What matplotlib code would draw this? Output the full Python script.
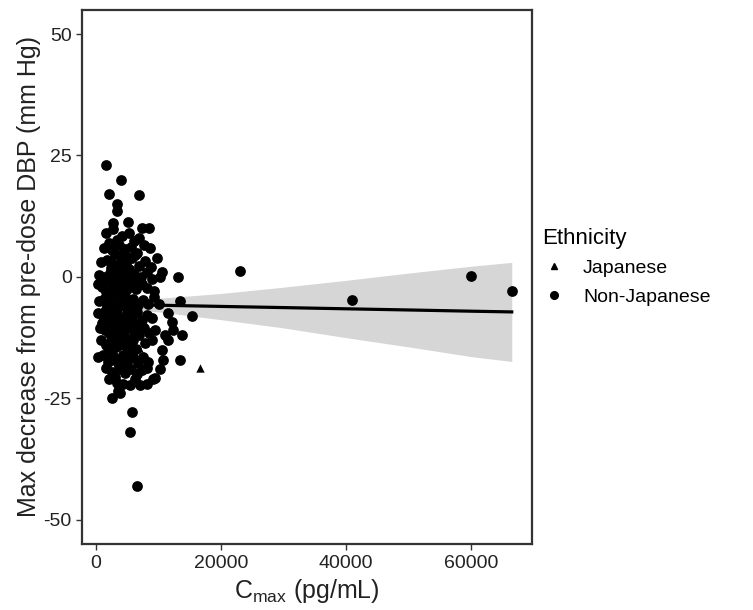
import matplotlib
matplotlib.use("Agg")
import matplotlib.pyplot as plt
from matplotlib.lines import Line2D

plt.rcParams['font.family'] = ['Liberation Sans', 'DejaVu Sans']
plt.rcParams['axes.unicode_minus'] = False

# Non-Japanese subjects: Cmax (pg/mL) and max decrease in DBP (mm Hg)
nonjp_x = [
    1500, 2700, 4200, 5200, 6000, 7300, 8400, 3300, 2100, 6800,
    1200, 2500, 3600, 4600, 5600, 6600, 7600, 8600, 3000, 4000, 5000,
    800, 1800, 2900, 3900, 4800, 5800, 6800, 7800, 9700, 2300, 5300, 8800,
    400, 1300, 2200, 3200, 4200, 5100, 6100, 7100, 8100, 10500, 10240, 13170, 9000,
    300, 1000, 1900, 2700, 3500, 4400, 5400, 6300, 7300, 8200, 9200, 1500, 3100, 6000, 4900,
    500, 1200, 2000, 2800, 3600, 4300, 5100, 5900, 6700, 7500, 8300, 9300, 13440, 1700, 4700, 10000,
    300, 1100, 1900, 2600, 3400, 4100, 4900, 5700, 6500, 7300, 8100, 9000, 11500, 12100, 15300, 2300, 5300,
    600, 1400, 2200, 3000, 3800, 4500, 5200, 6000, 6800, 7600, 8400, 9440, 11040, 12370, 13700,
    800, 1600, 2400, 3200, 4000, 4800, 5600, 6400, 7800, 8900, 10500, 11570, 2000,
    300, 1100, 1900, 2700, 3500, 4300, 5100, 5900, 6700, 7500, 8300, 10770, 13440,
    1500, 2600, 3600, 4600, 5600, 6500, 7300, 8200, 10240, 3000,
    2100, 3300, 4370, 5440, 6200, 7000, 8100, 9440, 9170, 3570, 3840, 2500,
    2400, 3800, 4500, 5500, 3200, 4100, 2900, 5000, 3700, 2000, 4400, 5800, 1000, 6400, 3900, 2400, 6200, 4700,
    2600, 3400, 4200, 5000, 1800, 3000, 4600, 5400, 2200, 3600, 6600, 1400, 4900, 2800, 3800, 5900,
    1600, 3950, 2130, 6830, 3300, 3400, 2770, 5170,
    23000, 41000, 60000, 66500,
    5700, 5440, 6600,
]
nonjp_y = [
    9, 9.8, 8.5, 9, 7.5, 10, 10, 7.6, 7, 8,
    6, 5.5, 6.5, 5.8, 6.2, 5, 6.5, 6, 4.8, 4.5, 4.2,
    3, 3.5, 2.5, 3.2, 2.8, 3.8, 2.2, 3.2, 3.9, 1.8, 1.6, 2,
    0.5, 0, 0.8, 0.2, 1, 0, 0.6, 0, 1, 1.1, 0, 0, -0.5,
    -1.5, -2, -1, -2.5, -1.2, -2.8, -1.8, -2.5, -1.5, -2.2, -2.8, -3, -3.2, -1, -0.8,
    -5, -4.5, -5.5, -4.2, -5.8, -4.8, -5.5, -4.5, -5.8, -4.8, -5.5, -4.2, -5, -6, -6.2, -5.5,
    -7.5, -8, -7.2, -8.5, -7.5, -8.8, -7.6, -8.5, -7.2, -8.8, -7.8, -8.5, -7.4, -9.2, -8.1, -9.5, -9.6,
    -10.5, -11, -10.2, -11.5, -10.5, -11.8, -10.4, -11.2, -12, -10.6, -11.5, -10.9, -11.9, -10.9, -11.9,
    -13, -14, -13.2, -14.5, -13, -14.2, -12.8, -14.8, -13.5, -12.9, -15, -12.9, -15,
    -16.5, -16, -17.5, -16.2, -17.8, -16, -17.2, -16.5, -17.8, -16.5, -17.5, -17, -17,
    -18.8, -19.5, -18.8, -19.8, -19, -20, -19.2, -18.8, -19, -20.5,
    -21, -21.8, -22.1, -22.2, -21, -22.2, -22.1, -20.9, -21.1, -23.5, -23.8, -24.9,
    -6.8, -3.5, 0, -13.5, -9, -16.5, -12.5, -2.5, 2, -11.5, -10, -6.5, -9.5, -9.8, -19, 3, 4.5, -18,
    -3.8, -6.5, -12, -8, -9, -17, -4, -15.5, -0.3, -14, -10.5, -7, -1.5, -11, -2, -13,
    23, 19.9, 17, 16.9, 15, 13.6, 11.1, 11.3,
    1.2, -4.7, 0.2, -2.9,
    -27.9, -32, -43,
]

# Japanese subjects
jp_x = [16640, 6930]
jp_y = [-18.7, -14.6]

# Linear fit and 95% confidence band
fit_x = [1000, 5000, 10000, 20000, 30000, 40000, 50000, 60000, 66500]
fit_y = [-5.6, -5.7, -5.82, -6.07, -6.31, -6.56, -6.8, -7.05, -7.2]
band_lo = [-6.8, -6.7, -7.2, -8.8, -10.5, -12.5, -14.4, -16.4, -17.4]
band_hi = [-4.4, -4.7, -4.4, -3.4, -2.1, -0.7, 0.8, 2.2, 3.0]

x_ticks = [0, 20000, 40000, 60000]
y_ticks = [50, 25, 0, -25, -50]

fig = plt.figure(figsize=(7.53, 6.10), dpi=100)
ax = fig.add_axes([0.109, 0.108, 0.598, 0.876])

ax.fill_between(fit_x, band_lo, band_hi, color='#D6D6D6', linewidth=0, zorder=1)
ax.scatter(nonjp_x, nonjp_y, s=60, marker='o', color='black', linewidths=0, zorder=2)
ax.scatter(jp_x, jp_y, s=36, marker='^', color='black', linewidths=0, zorder=2)
ax.plot(fit_x, fit_y, color='black', linewidth=2.3, zorder=3)

ax.set_xlim(-2250, 69800)
ax.set_ylim(-55, 55)
ax.set_xticks(x_ticks)
ax.set_xticklabels([str(v) for v in x_ticks])
ax.set_yticks(y_ticks)
ax.set_yticklabels([str(v) for v in y_ticks])
ax.tick_params(labelsize=14, labelcolor='#222222', color='#333333', length=4, width=1)

for sp in ax.spines.values():
    sp.set_color('#333333')
    sp.set_linewidth(1.6)

ax.set_xlabel(r'C$_{\mathregular{max}}$ (pg/mL)', fontsize=18, color='#222222', labelpad=4)
ax.set_ylabel('Max decrease from pre-dose DBP (mm Hg)', fontsize=18, color='#222222', labelpad=2)

handles = [
    Line2D([], [], marker='^', color='black', linestyle='None', markersize=5),
    Line2D([], [], marker='o', color='black', linestyle='None', markersize=5.5),
]
leg = fig.legend(handles, ['Japanese', 'Non-Japanese'], title='Ethnicity',
                 loc='upper left', bbox_to_anchor=(0.697, 0.655), frameon=False,
                 fontsize=14, title_fontsize=16, handletextpad=0.9,
                 labelspacing=0.55, alignment='left', handlelength=1.2)

fig.savefig('out.png', dpi=100)
